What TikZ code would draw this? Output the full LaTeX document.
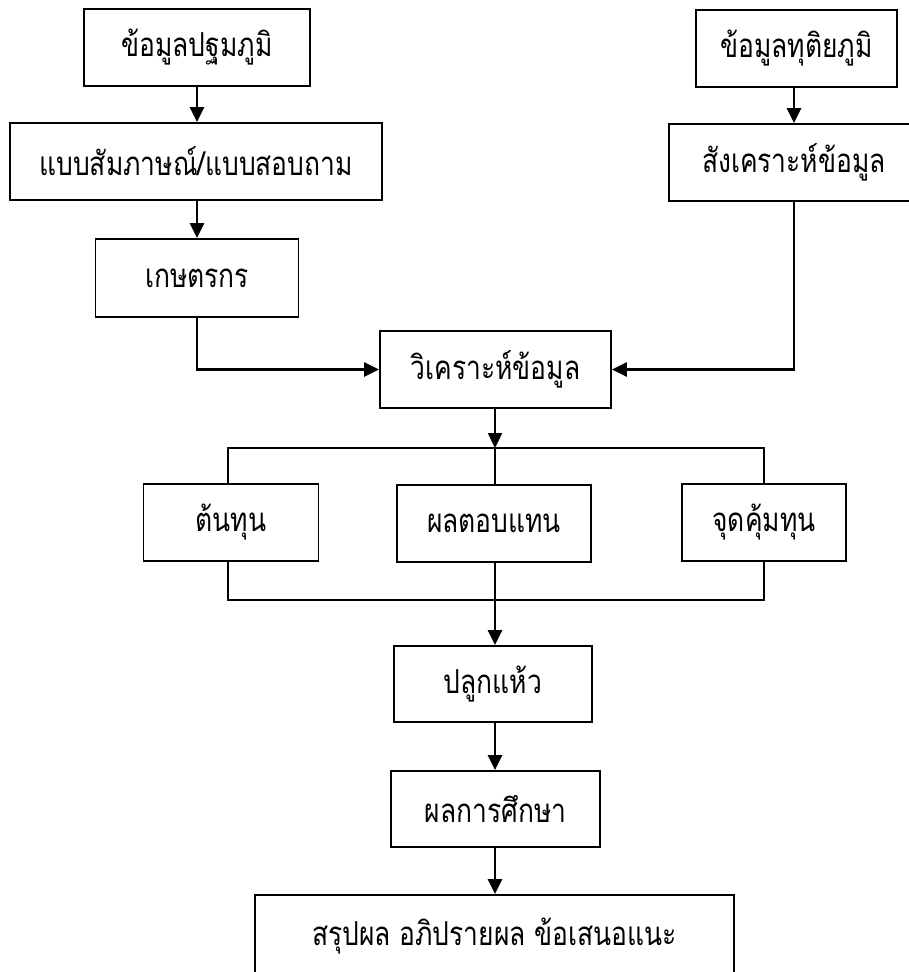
\documentclass[tikz,border=0pt]{standalone}
\usepackage{fontspec}
\newfontfamily\thai[Script=Thai,FakeStretch=0.8]{Loma}
\usetikzlibrary{arrows.meta}
\tikzset{
  box/.style={draw, line width=1.8pt, rectangle, inner sep=0pt, anchor=center, font=\thai\fontsize{33}{38}\selectfont},
  arr/.style={line width=2.4pt, -{Triangle[length=15pt,width=14pt]}},
  ln/.style={line width=2pt},
}
\begin{document}
\begin{tikzpicture}[x=1pt,y=-1pt]
\useasboundingbox (0,0) rectangle (908,972);
\node[box, minimum width=226pt, minimum height=77pt] (b1) at (197,47.5) {ข้อมูลปฐมภูมิ};
\node[box, minimum width=372pt, minimum height=77pt] (b2) at (196,161.5) {แบบสัมภาษณ์/แบบสอบถาม};
\node[box, minimum width=203pt, minimum height=78pt] (b3) at (197,278) {เกษตรกร};
\node[box, minimum width=201pt, minimum height=77pt] (b4) at (796.5,48.5) {ข้อมูลทุติยภูมิ};
\node[box, minimum width=250pt, minimum height=77pt] (b5) at (794,162.5) {สังเคราะห์ข้อมูล};
\node[box, minimum width=231pt, minimum height=77pt] (b6) at (495.5,369.5) {วิเคราะห์ข้อมูล};
\node[box, minimum width=175pt, minimum height=77pt] (b7) at (231,522.5) {ต้นทุน};
\node[box, minimum width=194pt, minimum height=77pt] (b8) at (494,523.5) {ผลตอบแทน};
\node[box, minimum width=164pt, minimum height=77pt] (b9) at (764,522.5) {จุดคุ้มทุน};
\node[box, minimum width=198pt, minimum height=76pt] (b10) at (493,684) {ปลูกแห้ว};
\node[box, minimum width=209pt, minimum height=76pt] (b11) at (495.5,809) {ผลการศึกษา};
\node[box, minimum width=479pt, minimum height=82pt] (b12) at (494.5,936) {สรุปผล อภิปรายผล ข้อเสนอแนะ};

\coordinate (tL) at (228,448);
\coordinate (tM) at (495,448);
\coordinate (tR) at (764,448);
\coordinate (bL) at (228,600);
\coordinate (bM) at (495,600);
\coordinate (bR) at (764,600);

\draw[arr] (b1.south) -- (b1.south |- b2.north);
\draw[arr] (b2.south -| b1.south) -- (b1.south |- b3.north);
\draw[arr] (b3.south) |- (b6.west);
\draw[arr] (b4.south -| b5.north) -- (b5.north);
\draw[arr] (b5.south) |- (b6.east);
\draw[arr] (b6.south -| tM) -- (tM);
\draw[ln] (tL |- b7.north) -- (tL) -- (tR) -- (tR |- b9.north);
\draw[ln] (tM) -- (tM |- b8.north);
\draw[ln] (bL |- b7.south) -- (bL) -- (bR) -- (bR |- b9.south);
\draw[ln] (bM |- b8.south) -- (bM);
\draw[arr] (bM) -- (bM |- b10.north);
\draw[arr] (b10.south -| bM) -- (bM |- b11.north);
\draw[arr] (b11.south -| bM) -- (bM |- b12.north);
\end{tikzpicture}
\end{document}
